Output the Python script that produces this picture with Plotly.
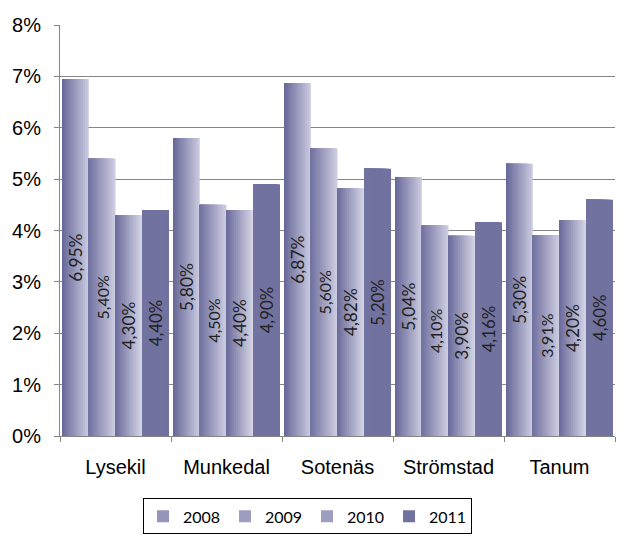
import plotly.graph_objects as go

# ---------------- DATA ----------------
kommuner = ["Lysekil", "Munkedal", "Sotenäs", "Strömstad", "Tanum"]
years = ["2008", "2009", "2010", "2011"]
v2008 = [6.95, 5.80, 6.87, 5.04, 5.30]
v2009 = [5.40, 4.50, 5.60, 4.10, 3.91]
v2010 = [4.30, 4.40, 4.82, 3.90, 4.20]
v2011 = [4.40, 4.90, 5.20, 4.16, 4.60]
series = [v2008, v2009, v2010, v2011]

# gradient (dark left edge -> light right edge) per year
dark = [(106, 106, 154), (116, 116, 162), (110, 110, 158), (114, 114, 160)]
light = [(200, 200, 222), (204, 204, 224), (212, 212, 230), (114, 114, 160)]
label_size = [18.5, 16, 17.5, 17]

bar_w = 0.241
steps = 14


def mix(c1, c2, t):
    return "rgb(%d,%d,%d)" % tuple(round(a + (b - a) * t) for a, b in zip(c1, c2))


def fmt(v):
    return f"{v:.2f}%".replace(".", ",")


fig = go.Figure()

for i, (yr, vals) in enumerate(zip(years, series)):
    left = -2 * bar_w + i * bar_w
    for k in range(steps):
        fig.add_trace(go.Bar(
            x=kommuner, y=vals,
            offset=left, width=bar_w * (1 - k / steps),
            marker=dict(color=mix(light[i], dark[i], k / (steps - 1)), line=dict(width=0)),
            name=yr,
            showlegend=(k == steps // 2),
            legendgroup=yr,
            hoverinfo="skip",
        ))

# value labels on top of the gradient strips
for i, (yr, vals) in enumerate(zip(years, series)):
    fig.add_trace(go.Bar(
        x=kommuner, y=vals,
        offset=-2 * bar_w + i * bar_w, width=bar_w,
        marker=dict(color="rgba(0,0,0,0)", line=dict(width=0)),
        text=[fmt(v) for v in vals],
        textposition="inside",
        insidetextanchor="middle",
        textangle=-90,
        textfont=dict(family="Lato, Noto Sans, sans-serif", size=label_size[i], color="#222222"),
        showlegend=False,
        hovertemplate="%{x} " + yr + ": %{text}<extra></extra>",
    ))

axis_font = dict(family="Liberation Sans", size=20, color="black")

# page body adds an 8px margin, so the figure is 8px smaller than the window
fig.update_layout(
    width=618, height=537,
    margin=dict(l=52, r=11, t=17, b=98),
    barmode="overlay",
    plot_bgcolor="white",
    paper_bgcolor="white",
    font=dict(family="Liberation Sans", size=20, color="black"),
    legend=dict(
        orientation="h",
        x=0.446, xanchor="center",
        y=-0.152, yanchor="top",
        bordercolor="black", borderwidth=1,
        font=dict(family="Lato, Noto Sans, sans-serif", size=16, color="black"),
        entrywidth=37, entrywidthmode="pixels",
        itemsizing="constant",
    ),
    showlegend=True,
)

fig.update_yaxes(
    range=[0, 8], dtick=1, ticksuffix="%",
    tickfont=axis_font,
    showgrid=True, gridcolor="#868686", gridwidth=1,
    showline=True, linecolor="#868686", linewidth=1,
    ticks="outside", ticklen=5, tickcolor="#868686",
    ticklabelstandoff=9,
    zeroline=False, automargin=False,
)
fig.update_xaxes(
    tickfont=axis_font,
    showgrid=False,
    showline=True, linecolor="#868686", linewidth=1,
    ticks="outside", ticklen=5, tickcolor="#868686",
    tickson="boundaries",
    ticklabelstandoff=13,
    automargin=False,
)

fig.write_html("out.html")
